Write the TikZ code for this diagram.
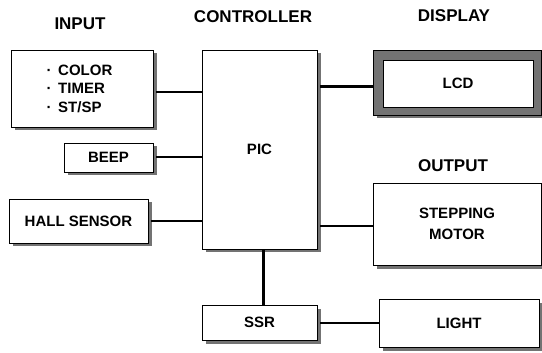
\documentclass[tikz,border=0pt]{standalone}
\usepackage{fontspec}
\setmainfont{Liberation Sans}
\begin{document}
\begin{tikzpicture}[x=1pt,y=-1pt,
  box/.style={draw, fill=white, line width=0.8pt, inner sep=0pt,
    font=\fontsize{15}{18}\selectfont\bfseries, align=center},
  shadowfill/.style={fill=black!55},
  lbl/.style={font=\fontsize{17}{20}\selectfont\bfseries},
  wire/.style={line width=2pt},
  thick wire/.style={line width=3pt}]
\useasboundingbox (0,0) rectangle (542,353);
% drop shadows, drawn first at the box positions
\foreach \cx/\cy/\w/\h in {82/88.5/142/77, 259.5/149.5/115/199, 108.5/157.5/89/29, 78.5/221/139/44, 457/82.5/168/65, 457/224/168/82, 259.5/322.5/115/35, 459/323/160/48}{
  \fill[shadowfill] (\cx-\w/2+3.5, \cy-\h/2+3.5) rectangle (\cx+\w/2+3.5, \cy+\h/2+3.5);
}
% headings
\node[lbl] (hin) at (80,24) {INPUT};
\node[lbl] (hctl) at (253,17) {CONTROLLER};
\node[lbl] (hdis) at (454,16) {DISPLAY};
\node[lbl] (hout) at (453,166) {OUTPUT};
% boxes
\node[box, minimum width=142pt, minimum height=77pt] (input) at (82,88.5) {};
\node[font=\fontsize{15}{18.5}\selectfont\bfseries, align=left, anchor=west] (inlist) at (43,88.5) {·\, COLOR\\·\, TIMER\\·\, ST/SP};
\node[box, minimum width=115pt, minimum height=199pt] (ctrl) at (259.5,149.5) {PIC};
\node[box, minimum width=89pt, minimum height=29pt] (beep) at (108.5,157.5) {BEEP};
\node[box, minimum width=139pt, minimum height=44pt] (hall) at (78.5,221) {HALL SENSOR};
\node[draw, line width=0.8pt, fill=black!55, minimum width=168pt, minimum height=65pt, inner sep=0pt] (lcdo) at (457,82.5) {};
\node[box, minimum width=150pt, minimum height=47pt] (lcd) at (458,83.5) {LCD};
\node[box, minimum width=168pt, minimum height=82pt] (motor) at (457,224) {STEPPING\\[3pt]MOTOR};
\node[box, minimum width=115pt, minimum height=35pt] (ssr) at (259.5,322.5) {SSR};
\node[box, minimum width=160pt, minimum height=48pt] (light) at (459,323) {LIGHT};
% connector end points
\coordinate (inA) at ([yshift=-3.5pt]input.east);
\coordinate (lcdA) at ([yshift=-4.5pt]lcdo.west);
\coordinate (motA) at ([yshift=-2pt]motor.west);
% connectors
\draw[wire] ([xshift=3pt]inA) -- (ctrl.west |- inA);
\draw[wire] ([xshift=3pt]beep.east) -- (ctrl.west |- beep.east);
\draw[wire] ([xshift=3pt]hall.east) -- (ctrl.west |- hall.east);
\draw[thick wire] ([xshift=3pt]ctrl.east |- lcdA) -- (lcdA);
\draw[wire] ([xshift=3pt]ctrl.east |- motA) -- (motA);
\draw[thick wire] ([xshift=3.5pt]ctrl.south) -- ([xshift=3.5pt]ssr.north);
\draw[wire] ([xshift=3pt]ssr.east) -- (light.west |- ssr.east);
\end{tikzpicture}
\end{document}
